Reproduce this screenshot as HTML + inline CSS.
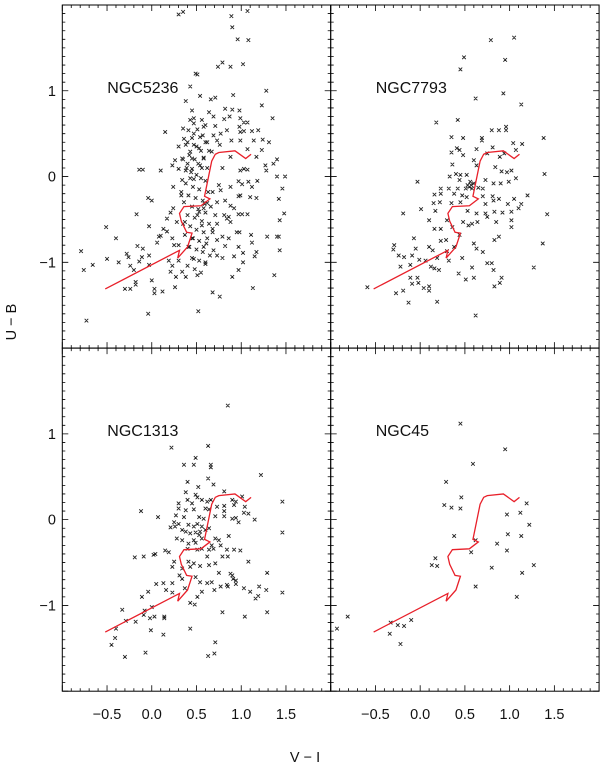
<!DOCTYPE html>
<html><head><meta charset="utf-8"><style>
html,body{margin:0;padding:0;background:#fff;}
svg{display:block;font-family:"Liberation Sans",sans-serif;}
</style></head><body>
<svg id="chart" width="600" height="771" viewBox="0 0 600 771" xmlns="http://www.w3.org/2000/svg"></svg>
<script>
const xTicks = [-0.5, 0.0, 0.5, 1.0, 1.5];
const xTickLabels = ["\u22120.5", "0.0", "0.5", "1.0", "1.5"];
const yTicks = [1, 0, -1];
const yTickLabels = ["1", "0", "\u22121"];
const galaxyNames = ["NGC5236", "NGC7793", "NGC1313", "NGC45"];

const modelVI = [-0.52,0.31,0.29,0.40,0.45,0.39,0.33,0.31,0.36,0.55,0.65,0.59,0.67,0.71,0.75,0.93,1.05,1.11];
const modelUB = [-1.31,-0.86,-0.95,-0.82,-0.66,-0.65,-0.52,-0.43,-0.35,-0.34,-0.26,-0.23,0.18,0.26,0.28,0.30,0.21,0.26];

const ngc5236 = [
[-0.79,-0.87],[-0.76,-1.09],[-0.66,-1.03],[-0.73,-1.68],[-0.51,-0.59],[-0.40,-0.72],[-0.50,-0.96],[-0.17,-0.44],[-0.04,-0.25],[0.0,-0.28],[-0.03,-0.58],[-0.04,-1.6],[-0.37,-1.0],[-0.28,-0.90],[-0.26,-0.94],[-0.16,-0.81],[-0.10,-0.84],[-0.11,-0.94],[-0.24,-1.04],[-0.2,-1.09],[-0.14,-0.99],[-0.03,-0.92],[-0.03,-1.03],[-0.30,-1.31],[-0.24,-1.31],[-0.18,-1.23],[-0.18,-1.26],[0.0,-1.21],[0.03,-1.31],[0.03,-1.36],[0.12,-1.34],[0.08,-0.70],[0.10,-0.69],[0.06,-0.77],[0.13,-0.61],[0.17,-0.49],[0.21,-0.42],[0.24,-0.37],[0.24,-0.12],[0.34,-0.04],[0.43,-0.02],[0.17,-0.64],[0.23,-0.72],[0.25,-0.80],[0.19,-0.98],[0.23,-1.04],[0.21,-1.11],[0.27,-1.17],[0.26,-1.29],[0.30,-0.98],[0.34,-1.11],[0.38,-1.17],[0.40,-1.04],[0.41,-0.82],[0.30,-0.80],[0.28,-0.53],[0.37,-0.53],[0.33,-0.22],[0.36,-0.30],[0.41,-0.22],[0.45,-0.72],[0.47,-0.96],
[0.97,-0.055],[1.08,-0.06],[1.18,-0.05],[1.40,0.0],[1.49,0.0],[1.01,-0.09],[1.12,-0.12],[1.46,-0.14],[0.97,-0.23],[0.99,-0.22],[1.10,-0.24],[1.17,-0.25],[1.42,-0.26],[1.48,-0.43],[1.43,-0.51],[0.97,-0.44],[1.01,-0.44],[1.07,-0.44],[0.92,-0.37],[0.86,-0.47],[0.95,-0.65],[0.98,-0.65],[1.11,-0.68],[1.29,-0.70],[1.40,-0.70],[1.42,-0.70],[1.12,-0.77],[0.97,-0.82],[1.02,-0.89],[1.17,-0.88],[1.15,-0.93],[1.43,-0.86],[0.92,-0.93],[1.02,-1.0],[0.97,-1.09],[0.90,-1.17],[1.37,-1.15],[1.13,-1.30],[0.68,-1.35],[0.76,-1.40],[0.52,-1.57],[0.79,-0.95],[0.73,-0.92],[0.69,-0.86],[0.60,-1.0],[0.51,-1.15],[0.82,-0.81],[0.73,-0.74],[0.79,-0.70],[0.86,-0.72],[0.62,-0.72],[0.58,-0.82],[0.68,-0.61],[0.73,-0.55],[0.84,-0.49],[0.71,-0.45],[0.81,-0.45],[0.88,-0.53],[0.56,-0.57],[0.53,-0.41],[0.58,-0.37],[0.62,-0.31],[0.73,-0.30],[0.82,-0.28],[0.88,-0.34],[0.68,-0.18],[0.75,-0.10],[0.77,-0.16],[0.88,-0.12],
[1.07,1.93],[0.89,1.87],[0.90,1.74],[0.96,1.60],[1.08,1.59],[0.79,1.33],[0.74,1.28],[0.88,1.28],[1.02,1.31],[0.51,1.19],[1.28,1.0],[0.54,0.94],[0.66,0.90],[0.71,0.92],[0.91,0.95],[1.23,0.83],[1.35,0.68],[0.82,0.79],[0.90,0.78],[0.98,0.77],[0.64,0.75],[0.69,0.70],[0.81,0.67],[0.87,0.70],[0.99,0.68],[1.03,0.63],[1.07,0.63],[0.56,0.66],[0.58,0.58],[0.71,0.59],[0.77,0.50],[0.84,0.54],[0.98,0.58],[0.99,0.52],[1.03,0.53],[1.12,0.53],[1.19,0.54],[1.14,0.42],[1.24,0.43],[1.31,0.40],[0.89,0.42],[0.99,0.42],[0.69,0.48],[0.73,0.42],[0.60,0.40],[0.67,0.29],[0.76,0.37],[1.07,0.32],[1.23,0.31],[1.17,0.23],[0.88,0.23],[1.40,0.20],[1.36,0.15],[1.27,0.13],[1.28,0.07],[1.03,0.09],[1.07,0.08],[0.99,0.07],[0.79,0.10],[0.54,0.46],[0.53,0.33],[0.58,0.21],[0.54,0.13],
[0.30,1.89],[0.35,1.92],[0.49,1.20],[0.43,1.05],[0.38,0.88],[0.45,0.77],[0.43,0.66],[0.47,0.68],[0.15,0.52],[0.35,0.56],[0.41,0.54],[0.36,0.44],[0.47,0.50],[0.30,0.35],[0.38,0.37],[0.43,0.29],[0.47,0.37],[0.26,0.19],[0.23,0.13],[0.34,0.21],[0.40,0.15],[0.45,0.21],[0.30,0.09],[0.38,0.07],[0.45,0.09],[-0.14,0.08],[-0.10,0.08],[0.10,0.07],
[0.40,0.40],[0.45,0.45],[0.50,0.35],[0.55,0.30],[0.42,0.25],[0.48,0.20],[0.52,0.15],[0.58,0.22],[0.62,0.10],[0.44,0.05],[0.50,0.02],[0.55,-0.02],[0.60,-0.05],[0.38,-0.08],[0.46,-0.12],[0.53,-0.15],[0.63,-0.18],[0.41,-0.22],[0.49,-0.25],[0.57,-0.28],[0.36,-0.30],[0.45,-0.35],[0.52,-0.38],[0.60,-0.42],[0.40,-0.45],[0.48,-0.48],[0.56,-0.52],[0.64,-0.55],[0.43,-0.58],[0.50,-0.62],[0.58,-0.65],[0.37,-0.68],[0.46,-0.72],[0.53,-0.75],[0.61,-0.78],[0.42,-0.82],[0.50,-0.85],[0.57,-0.88],[0.45,-0.95],[0.53,-0.98],[0.60,-1.02],[0.48,-1.08],[0.55,-1.12],[0.62,0.40],[0.57,0.48],[0.51,0.55],[0.64,0.30],[0.35,0.20],[0.33,-0.18],[0.66,-0.35],[0.68,-0.65],[0.65,-0.92],[0.35,-0.55],[0.39,0.10],[0.47,0.62],[0.60,0.60],[0.56,0.10],[0.47,-0.03],[0.59,-0.32],[0.51,-0.45]
];

const ngc7793 = [
[0.79,1.59],[1.05,1.62],[0.49,1.39],[0.95,1.36],[0.45,1.25],[0.62,0.91],[0.93,0.97],[1.13,0.84],[0.42,0.66],[0.18,0.63],[0.80,0.54],[0.88,0.54],[0.96,0.58],[0.96,0.54],[1.38,0.45],[0.35,0.46],[0.48,0.45],[0.69,0.45],[0.69,0.42],[1.04,0.39],[1.14,0.38],[0.41,0.33],[0.44,0.31],[0.63,0.32],[0.81,0.34],[1.07,0.31],[0.35,0.28],[0.48,0.25],[0.75,0.27],[0.89,0.23],[0.94,0.27],[0.36,0.14],[0.60,0.19],[0.63,0.13],[0.84,0.11],[0.91,0.06],[0.97,0.05],[1.02,0.07],[1.39,0.03],[-0.03,-0.06],[0.33,0.0],[0.40,0.03],[0.45,0.02],[0.52,0.02],[0.44,-0.04],[0.73,-0.04],[0.82,-0.08],[0.90,-0.08],[0.99,-0.06],[1.07,-0.02],
[0.53,-0.1],[0.57,-0.1],[0.55,-0.12],[0.58,-0.14],[0.51,-0.14],[0.56,-0.06],[0.60,-0.08],[0.23,-0.14],[0.32,-0.14],[0.42,-0.14],[0.65,-0.13],[0.70,-0.14],[0.16,-0.21],[0.23,-0.20],[0.38,-0.20],[0.47,-0.22],[0.52,-0.24],[0.70,-0.23],[0.81,-0.23],[0.88,-0.26],[1.05,-0.26],[1.20,-0.22],[0.15,-0.31],[0.22,-0.30],[0.35,-0.31],[0.45,-0.30],[0.73,-0.32],[0.82,-0.28],[0.98,-0.32],[1.13,-0.32],[-0.19,-0.43],[0.01,-0.38],[0.17,-0.40],[0.53,-0.40],[0.63,-0.43],[0.73,-0.43],[0.83,-0.41],[0.92,-0.42],[1.02,-0.41],[1.10,-0.37],[1.42,-0.44],[0.10,-0.51],[0.30,-0.51],[0.48,-0.53],[0.58,-0.55],[0.64,-0.53],[0.75,-0.47],[0.85,-0.53],[1.02,-0.51],[0.16,-0.61],[0.23,-0.61],[0.36,-0.59],[0.54,-0.57],[1.02,-0.59],
[-0.07,-0.72],[0.23,-0.75],[0.29,-0.74],[0.44,-0.68],[0.83,-0.74],[0.88,-0.70],[-0.29,-0.80],[-0.30,-0.85],[-0.05,-0.84],[0.10,-0.82],[0.14,-0.86],[0.30,-0.87],[0.38,-0.82],[0.60,-0.78],[0.63,-0.84],[0.70,-0.88],[1.37,-0.78],[-0.24,-0.92],[-0.18,-0.94],[-0.09,-0.92],[-0.01,-0.97],[0.06,-0.98],[0.19,-0.95],[0.32,-0.98],[0.47,-0.95],[-0.22,-1.05],[-0.11,-1.03],[0.12,-1.05],[0.16,-1.07],[0.21,-1.09],[0.75,-1.01],[0.80,-1.01],[0.82,-1.09],[0.58,-1.06],[1.27,-1.06],[-0.11,-1.18],[-0.03,-1.18],[0.43,-1.13],[0.51,-1.20],[0.60,-1.18],[0.91,-1.18],[-0.09,-1.25],[-0.02,-1.24],[-0.59,-1.29],[0.04,-1.30],[0.10,-1.28],[0.83,-1.28],[0.89,-1.24],[-0.19,-1.33],[-0.27,-1.36],[0.10,-1.33],[-0.13,-1.47],[0.19,-1.46],[0.62,-1.62]
];

const ngc1313 = [
[0.85,1.33],[0.22,0.84],[0.63,0.86],[0.49,0.72],[0.36,0.64],[0.47,0.64],[0.66,0.64],[0.66,0.61],[1.22,0.52],[0.63,0.48],[0.40,0.44],[0.69,0.41],[0.52,0.38],[0.38,0.32],[0.81,0.33],[0.49,0.29],[0.51,0.26],[1.01,0.27],[1.46,0.21],[0.30,0.19],[0.40,0.23],[0.45,0.19],[0.56,0.23],[0.62,0.21],[0.66,0.23],[0.90,0.23],[0.94,0.21],[0.92,0.17],[-0.12,0.10],[0.30,0.13],[0.38,0.11],[0.47,0.12],[0.60,0.13],[0.64,0.12],[0.73,0.15],[0.81,0.16],[0.81,0.10],[0.81,0.04],[1.04,0.15],[1.03,0.08],[1.08,0.07],[0.07,0.03],[0.27,0.05],[0.36,0.03],[0.53,0.03],[0.58,0.01],[0.71,0.04],[0.90,0.01],[0.94,0.02],[0.97,-0.03],[1.15,0.0],
[0.25,-0.03],[0.30,-0.05],[0.26,-0.08],[0.21,-0.09],[0.34,-0.12],[0.41,-0.06],[0.47,-0.08],[0.51,-0.05],[0.56,-0.08],[0.54,-0.14],[0.60,-0.12],[0.64,-0.10],[0.38,-0.14],[0.43,-0.16],[0.49,-0.15],[0.53,-0.18],[1.46,-0.15],[0.28,-0.22],[0.34,-0.24],[0.47,-0.24],[0.56,-0.22],[0.71,-0.22],[0.75,-0.24],[0.86,-0.19],[0.41,-0.28],[0.49,-0.27],[0.67,-0.30],[0.77,-0.30],[0.15,-0.36],[0.19,-0.38],[0.40,-0.34],[0.51,-0.35],[0.56,-0.34],[0.64,-0.35],[0.69,-0.34],[0.84,-0.35],[0.92,-0.35],[0.99,-0.36],[-0.19,-0.44],[-0.09,-0.43],[0.02,-0.41],[0.04,-0.40],[0.25,-0.49],[0.41,-0.49],[0.47,-0.51],[0.62,-0.43],[0.71,-0.51],[0.79,-0.43],[0.85,-0.43],[1.08,-0.49],[0.23,-0.55],[0.34,-0.57],[0.43,-0.55],[0.54,-0.54],[0.64,-0.53],
[0.31,-0.65],[0.75,-0.62],[0.88,-0.63],[0.90,-0.65],[1.29,-0.62],[0.34,-0.69],[0.49,-0.67],[0.91,-0.69],[0.94,-0.71],[0.05,-0.75],[0.13,-0.74],[0.23,-0.74],[0.54,-0.73],[0.62,-0.74],[0.67,-0.73],[0.84,-0.76],[0.94,-0.75],[-0.04,-0.84],[0.16,-0.82],[0.23,-0.85],[0.37,-0.80],[0.56,-0.84],[0.70,-0.82],[0.77,-0.78],[0.85,-0.78],[1.03,-0.80],[1.10,-0.84],[1.20,-0.78],[1.28,-0.82],[1.46,-0.85],[-0.11,-0.90],[0.51,-0.90],[1.16,-0.92],[1.19,-0.89],[0.43,-0.97],[0.48,-0.99],[-0.33,-1.05],[-0.08,-1.06],[0.0,-1.02],[0.79,-1.08],[1.29,-1.08],[-0.09,-1.11],[0.03,-1.13],[-0.02,-1.15],[0.14,-1.13],[0.14,-1.15],[-0.29,-1.18],[-0.18,-1.19],[1.04,-1.13],[-0.40,-1.27],[-0.01,-1.29],[0.43,-1.27],[-0.41,-1.38],[0.13,-1.34],[-0.45,-1.46],[0.71,-1.43],[-0.30,-1.6],[-0.07,-1.55],[0.63,-1.59],[0.70,-1.56]
];

const ngc45 = [
[0.45,1.12],[0.95,0.82],[0.59,0.65],[0.29,0.44],[0.46,0.26],[0.27,0.17],[0.35,0.14],[0.45,0.13],[1.19,0.19],[1.12,0.08],[0.97,0.06],[1.22,-0.06],[0.38,-0.19],[0.98,-0.17],[1.13,-0.19],[0.62,-0.24],[0.86,-0.28],[0.57,-0.38],[0.97,-0.36],[0.17,-0.45],[0.13,-0.53],[0.19,-0.54],[0.80,-0.56],[1.27,-0.53],[1.14,-0.62],[0.62,-0.78],[1.08,-0.90],[-0.81,-1.13],[-0.93,-1.27],[-0.33,-1.20],[-0.10,-1.17],[-0.25,-1.23],[-0.18,-1.24],[-0.34,-1.33],[-0.22,-1.45]
];

const svg = document.getElementById('chart');
const NS = 'http://www.w3.org/2000/svg';
const PW = 268.4, PH = 343.1;
const panels = [
  {x0: 62.3, y0: 5, data: ngc5236, name: galaxyNames[0], key: 'ngc5236'},
  {x0: 330.7, y0: 5, data: ngc7793, name: galaxyNames[1], key: 'ngc7793'},
  {x0: 62.3, y0: 348.1, data: ngc1313, name: galaxyNames[2], key: 'ngc1313'},
  {x0: 330.7, y0: 348.1, data: ngc45, name: galaxyNames[3], key: 'ngc45'}
];
function mk(tag, attrs, parent) {
  const e = document.createElementNS(NS, tag);
  for (const k in attrs) e.setAttribute(k, attrs[k]);
  (parent || svg).appendChild(e);
  return e;
}
panels.forEach(function(p, pi) {
  const sx = v => p.x0 + (v + 1) / 3 * PW;
  const sy = v => p.y0 + (2 - v) / 4 * PH;
  const g = mk('g', {});
  
  
  const frame = mk('rect', {x: p.x0, y: p.y0, width: PW, height: PH, fill: 'none', stroke: '#000', 'stroke-width': 1}, g);
  
  
  // ticks
  let d = '';
  for (let i = -10; i <= 20; i++) {
    const v = i / 10, X = sx(v);
    const L = (i % 5 === 0) ? 6 : 3;
    d += 'M' + X + ' ' + (p.y0 + PH) + 'v' + (-L) + 'M' + X + ' ' + p.y0 + 'v' + L;
  }
  for (let i = -20; i <= 20; i++) {
    const v = i / 10, Y = sy(v);
    const L = (i % 10 === 0) ? 6 : 3;
    d += 'M' + p.x0 + ' ' + Y + 'h' + L + 'M' + (p.x0 + PW) + ' ' + Y + 'h' + (-L);
  }
  const ticks = mk('path', {d: d, stroke: '#000', 'stroke-width': 0.8, fill: 'none'}, g);
  
  
  // points
  let pd = '';
  p.data.forEach(function(pt) {
    const X = sx(pt[0]), Y = sy(pt[1]);
    pd += 'M' + (X - 1.8) + ' ' + (Y - 1.8) + 'l3.6 3.6M' + (X - 1.8) + ' ' + (Y + 1.8) + 'l3.6 -3.6';
  });
  const pts = mk('path', {d: pd, stroke: '#222', 'stroke-width': 0.9, fill: 'none'}, g);
  
  
  // model track
  const md = modelVI.map((v, i) => (i ? 'L' : 'M') + sx(v) + ' ' + sy(modelUB[i])).join('');
  const track = mk('path', {d: md, stroke: '#e8202a', 'stroke-width': 1.3, fill: 'none'}, g);
  
  
  // name
  const t = mk('text', {x: p.x0 + 45, y: sy(1) + 2, 'font-size': 16, fill: '#111'}, g);
  t.textContent = p.name;
  
  
  // tick labels
  if (p.y0 > 300) {
    xTicks.forEach(function(v, i) {
      const tl = mk('text', {x: sx(v), y: 719, 'font-size': 14.5, 'text-anchor': 'middle', fill: '#111'}, g);
      tl.textContent = xTickLabels[i];
      
      
    });
  }
  if (p.x0 < 100) {
    yTicks.forEach(function(v, i) {
      const tl = mk('text', {x: 56, y: sy(v) + 5, 'font-size': 14.5, 'text-anchor': 'end', fill: '#111'}, g);
      tl.textContent = yTickLabels[i];
      
      
    });
  }
});
const xt = mk('text', {x: 305, y: 762, 'font-size': 14.5, 'text-anchor': 'middle', fill: '#111'});
xt.textContent = 'V \u2212 I';


const yt = mk('text', {x: 0, y: 0, 'font-size': 14.5, 'text-anchor': 'middle', fill: '#111', transform: 'translate(16,322) rotate(-90)'});
yt.textContent = 'U \u2212 B';


</script>
</body></html>
